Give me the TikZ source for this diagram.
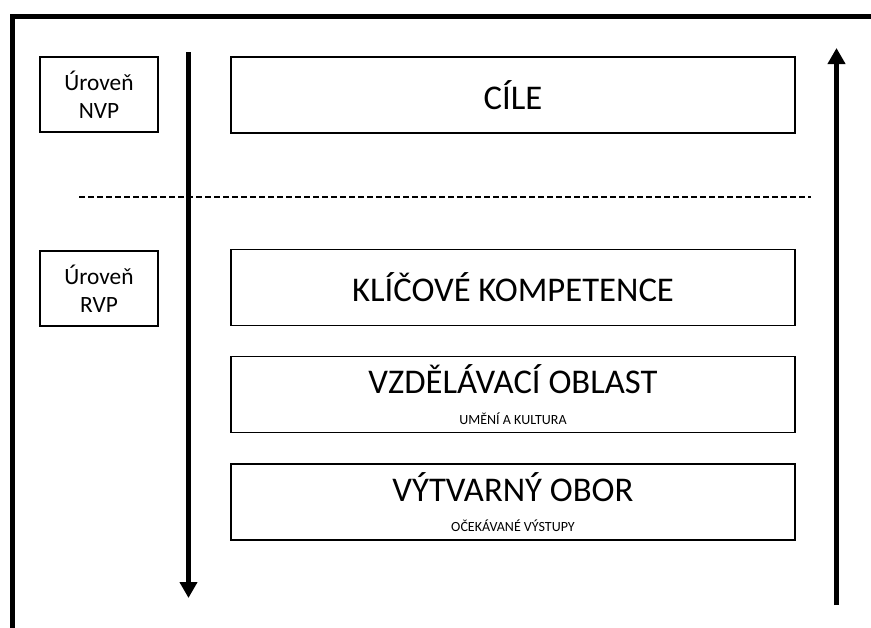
\documentclass[tikz,border=0pt]{standalone}
\usepackage{fontspec}
\setmainfont{Carlito}
\usetikzlibrary{arrows.meta,positioning}

\begin{document}
\begin{tikzpicture}[
        x=0.75pt, y=-0.75pt,
        level/.style={draw, line width=1pt, minimum width=88.5pt, minimum height=56.25pt, align=center, font=\fontsize{17.5}{21}\selectfont, inner sep=0pt},
        tier/.style={draw, line width=1pt, minimum width=423pt, minimum height=57pt, align=center, font=\fontsize{26}{28}\selectfont, inner sep=0pt},
        sub/.style={font=\fontsize{10.5}{12}\selectfont},
        flow/.style={line width=3.75pt, -{Triangle[length=12pt, width=12.75pt]}}
    ]
    \clip (0,0) rectangle (871,628);
    \fill[white] (0,0) rectangle (871,628);
    % Rámeček
    \draw[line width=3.75pt] (12,640) -- (12,16.5) -- (890,16.5);
    % Úrovně
    \node[level] (nvp) at (99,94.5) {Úroveň\\NVP};
    \node[level] (rvp) at (99,288.5) {Úroveň\\RVP};
    % Stupně
    \node[tier] (cile) at (513,95) {CÍLE};
    \node[tier] (kk) at (513,287.5) {KLÍČOVÉ KOMPETENCE};
    \node[tier] (vo) at (513,394.5) {VZDĚLÁVACÍ OBLAST\\[-5pt]{\fontsize{10.5}{12}\selectfont UMĚNÍ A KULTURA}};
    \node[tier] (vv) at (513,502) {VÝTVARNÝ OBOR\\[-5pt]{\fontsize{10.5}{12}\selectfont OČEKÁVANÉ VÝSTUPY}};
    % Dělicí čára
    \coordinate (dl) at (79,197);
    \coordinate (dr) at (811,197);
    \draw[line width=1.5pt, dash pattern=on 4.5pt off 2.25pt] (dl) -- (dr);
    % Šipky
    \coordinate (downtop) at (188.5,52);
    \coordinate (downend) at (188.5,598);
    \coordinate (upstart) at (836.5,605);
    \coordinate (upend) at (836.5,48);
    \draw[flow] (downtop) -- (downend);
    \draw[flow] (upstart) -- (upend);
\end{tikzpicture}
\end{document}
